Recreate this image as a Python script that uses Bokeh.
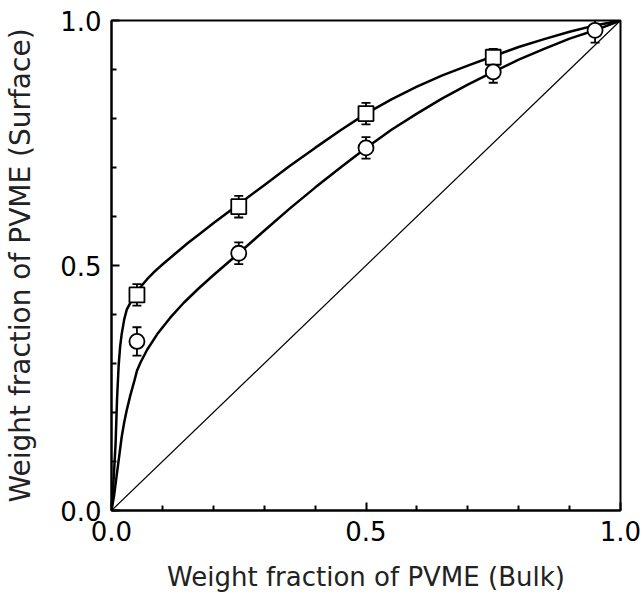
from bokeh.plotting import figure
from bokeh.models import FixedTicker, Range1d, Whisker, ColumnDataSource, TeeHead, NumeralTickFormatter
from bokeh.embed import file_html
from bokeh.resources import INLINE

# measured data (squares and circles) with error bars
sq_x = [0.05, 0.25, 0.50, 0.75]
sq_y = [0.44, 0.62, 0.81, 0.925]
sq_err = [0.022, 0.022, 0.022, 0.017]

ci_x = [0.05, 0.25, 0.50, 0.75, 0.95]
ci_y = [0.345, 0.525, 0.74, 0.895, 0.98]
ci_err = [0.029, 0.022, 0.022, 0.022, 0.025]

# fitted curves
sq_fit_x = [0.0, 0.004, 0.008, 0.011, 0.014, 0.017, 0.02, 0.025, 0.03, 0.04, 0.05, 0.06, 0.07,
            0.085, 0.1, 0.125, 0.15, 0.175, 0.2, 0.25, 0.3, 0.35, 0.4, 0.45, 0.5, 0.55, 0.6,
            0.65, 0.7, 0.75, 0.8, 0.85, 0.9, 0.95, 1.0]
sq_fit_y = [0.0, 0.06, 0.136, 0.23, 0.295, 0.335, 0.36, 0.39, 0.41, 0.43, 0.445, 0.46, 0.472,
            0.488, 0.502, 0.524, 0.546, 0.566, 0.586, 0.625, 0.664, 0.703, 0.74, 0.776, 0.81,
            0.839, 0.865, 0.888, 0.908, 0.927, 0.946, 0.962, 0.977, 0.99, 1.0]

ci_fit_x = [0.0, 0.005, 0.01, 0.015, 0.02, 0.025, 0.03, 0.037, 0.045, 0.05, 0.057, 0.07, 0.09,
            0.115, 0.142, 0.17, 0.2, 0.25, 0.3, 0.35, 0.4, 0.45, 0.5, 0.55, 0.6, 0.65, 0.7,
            0.75, 0.8, 0.85, 0.9, 0.95, 1.0]
ci_fit_y = [0.0, 0.03, 0.07, 0.11, 0.15, 0.18, 0.205, 0.235, 0.265, 0.285, 0.302, 0.328, 0.36,
            0.393, 0.424, 0.452, 0.48, 0.525, 0.571, 0.616, 0.659, 0.7, 0.74, 0.777, 0.81,
            0.841, 0.869, 0.895, 0.92, 0.942, 0.963, 0.98, 1.0]

diag = [0.0, 1.0]

major_ticks = [0.0, 0.5, 1.0]
minor_ticks = [0.1, 0.2, 0.3, 0.4, 0.6, 0.7, 0.8, 0.9]

FONT = "DejaVu Sans"

p = figure(width=644, height=594, x_range=Range1d(0, 1), y_range=Range1d(0, 1),
           output_backend="svg", toolbar_location=None,
           min_border_left=111, min_border_right=24, min_border_top=20, min_border_bottom=84)
p.background_fill_color = "white"
p.border_fill_color = "white"
p.outline_line_color = "black"
p.outline_line_width = 2
p.xgrid.visible = False
p.ygrid.visible = False

for ax in (p.xaxis[0], p.yaxis[0]):
    ax.ticker = FixedTicker(ticks=major_ticks, minor_ticks=minor_ticks)
    ax.formatter = NumeralTickFormatter(format="0.0")
    ax.axis_line_width = 2
    ax.axis_line_color = "black"
    ax.major_tick_in = 8
    ax.major_tick_out = 0
    ax.minor_tick_in = 5
    ax.minor_tick_out = 0
    ax.major_tick_line_width = 2
    ax.minor_tick_line_width = 2
    ax.major_label_text_font = FONT
    ax.major_label_text_font_size = "26px"
    ax.major_label_text_color = "black"
    ax.axis_label_text_font = FONT
    ax.axis_label_text_font_style = "normal"
    ax.axis_label_text_color = "#222222"
    ax.major_label_standoff = 10

p.xaxis.axis_label = "Weight fraction of PVME (Bulk)"
p.yaxis.axis_label = "Weight fraction of PVME (Surface)"
p.xaxis.axis_label_text_font_size = "26px"
p.yaxis.axis_label_text_font_size = "28px"
p.xaxis.axis_label_standoff = 18
p.yaxis.axis_label_standoff = 20

p.line(diag, diag, line_color="black", line_width=1.2)
p.line(sq_fit_x, sq_fit_y, line_color="black", line_width=2.5)
p.line(ci_fit_x, ci_fit_y, line_color="black", line_width=2.5)

sq_src = ColumnDataSource(dict(x=sq_x, y=sq_y,
                               lo=[a - b for a, b in zip(sq_y, sq_err)],
                               hi=[a + b for a, b in zip(sq_y, sq_err)]))
ci_src = ColumnDataSource(dict(x=ci_x, y=ci_y,
                               lo=[a - b for a, b in zip(ci_y, ci_err)],
                               hi=[a + b for a, b in zip(ci_y, ci_err)]))

for src in (sq_src, ci_src):
    w = Whisker(base="x", lower="lo", upper="hi", source=src, line_width=1.8, line_color="black",
                lower_head=TeeHead(size=9, line_width=1.8, line_color="black"),
                upper_head=TeeHead(size=9, line_width=1.8, line_color="black"))
    p.add_layout(w)

p.scatter("x", "y", source=sq_src, marker="square", size=15, fill_color="white",
          line_color="black", line_width=1.8)
p.scatter("x", "y", source=ci_src, marker="circle", size=15, fill_color="white",
          line_color="black", line_width=1.8)

open("out.html", "w").write(file_html(p, INLINE))
